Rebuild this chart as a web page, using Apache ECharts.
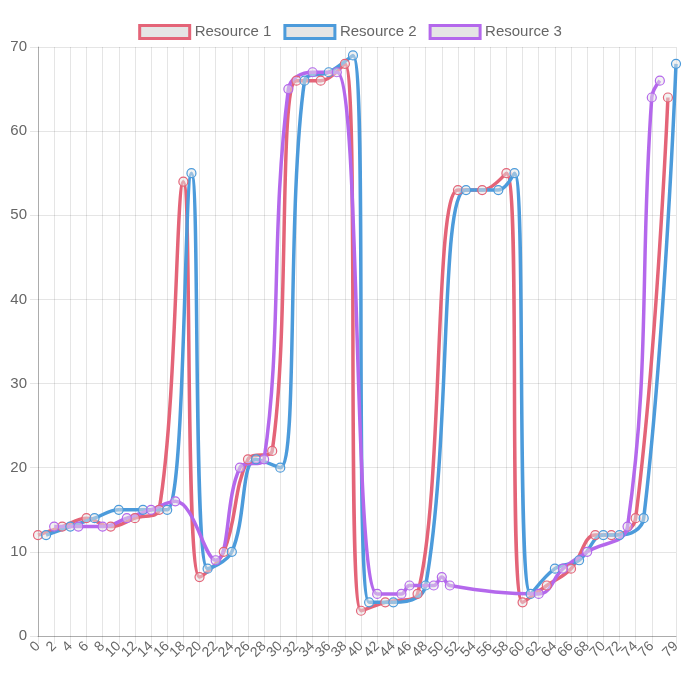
<!DOCTYPE html>
<html>
<head>
<meta charset="utf-8">
<script src="https://cdn.jsdelivr.net/npm/echarts@6/dist/echarts.min.js"></script>
<style>
    html, body {margin: 0; padding: 0; background: #fff;}
    #chart {width: 700px; height: 681px;}
</style>
</head>
<body>
<div id="chart"></div>
<script>
var categories = [];
for (var i = 0; i <= 79; i++) categories.push(String(i));

// [index, value] pairs
var resource1 = [[0, 12], [3, 13], [6, 14], [9, 13], [12, 14], [15, 15], [18, 54], [20, 7], [23, 10],
    [26, 21], [29, 22], [32, 66], [35, 66], [38, 68], [40, 3], [43, 4], [47, 5], [52, 53], [55, 53],
    [58, 55], [60, 4], [63, 6], [66, 8], [69, 12], [71, 12], [74, 14], [78, 64]];
var resource2 = [[1, 12], [4, 13], [7, 14], [10, 15], [13, 15], [16, 15], [19, 55], [21, 8], [24, 10],
    [27, 21], [30, 20], [33, 66], [36, 67], [39, 69], [41, 4], [44, 4], [48, 6], [53, 53], [57, 53],
    [59, 55], [61, 5], [64, 8], [67, 9], [70, 12], [72, 12], [75, 14], [79, 68]];
var resource3 = [[2, 13], [5, 13], [8, 13], [11, 14], [14, 15], [17, 16], [22, 9], [25, 20], [28, 21],
    [31, 65], [34, 67], [37, 67], [42, 5], [45, 5], [46, 6], [49, 6], [50, 7], [51, 6], [62, 5],
    [65, 8], [68, 10], [73, 13], [76, 64], [77, 66]];

var names = ['Resource 1', 'Resource 2', 'Resource 3'];
var colors = ['rgb(228,100,120)', 'rgb(76,155,219)', 'rgb(180,104,236)'];

function toSeries(pairs) {
    var arr = [];
    for (var i = 0; i < categories.length; i++) arr.push(null);
    pairs.forEach(function (p) { arr[p[0]] = p[1]; });
    return arr;
}

function showTick(idx) {
    return (idx % 2 === 0 && idx <= 76) || idx === 79;
}

var font = '"Liberation Sans", Arial, sans-serif';

var chart = echarts.init(document.getElementById('chart'));
var series = [resource1, resource2, resource3].map(function (d, k) {
    return {
        name: names[k],
        type: 'line',
        data: toSeries(d),
        connectNulls: true,
        smooth: 0.4,
        symbol: 'circle',
        symbolSize: 9,
        showAllSymbol: true,
        lineStyle: {color: colors[k], width: 3.5},
        itemStyle: {color: 'rgba(230,230,230,0.5)', borderColor: colors[k], borderWidth: 1.2},
        emphasis: {disabled: true}
    };
});

chart.setOption({
    animation: false,
    textStyle: {fontFamily: font},
    legend: {
        top: 19,
        left: 'center',
        icon: 'rect',
        itemWidth: 50,
        itemHeight: 13,
        itemGap: 12,
        textStyle: {fontSize: 15, color: '#666', fontFamily: font},
        data: names.map(function (n, k) {
            return {name: n, itemStyle: {color: 'rgba(0,0,0,0.1)', borderColor: colors[k], borderWidth: 3}};
        })
    },
    grid: {left: 38, right: 24, top: 47, bottom: 45},
    xAxis: {
        type: 'category',
        data: categories,
        boundaryGap: false,
        axisLine: {lineStyle: {color: 'rgba(0,0,0,0.25)'}},
        axisTick: {show: true, length: 8, interval: function (i) { return showTick(i); },
            lineStyle: {color: 'rgba(0,0,0,0.1)'}},
        splitLine: {show: true, interval: function (i) { return showTick(i); },
            lineStyle: {color: 'rgba(0,0,0,0.1)'}},
        axisLabel: {
            interval: function (i) { return showTick(i); },
            rotate: 45,
            fontSize: 14,
            color: '#666',
            margin: 8
        }
    },
    yAxis: {
        type: 'value',
        min: 0,
        max: 70,
        interval: 10,
        axisLine: {show: true, lineStyle: {color: 'rgba(0,0,0,0.25)'}},
        axisTick: {show: true, length: 8, lineStyle: {color: 'rgba(0,0,0,0.1)'}},
        splitLine: {lineStyle: {color: 'rgba(0,0,0,0.1)'}},
        axisLabel: {fontSize: 15, color: '#666', margin: 11}
    },
    series: series
});
</script>
</body>
</html>
